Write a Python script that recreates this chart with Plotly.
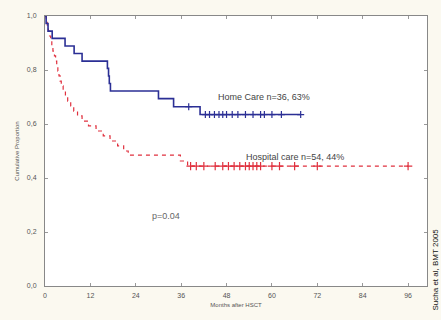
import plotly.graph_objects as go

# Home care (n=36): step times (months) and survival after each step
home_t = [0, 0.3, 0.8, 1.9, 5.3, 7.7, 9.8, 16.5, 16.8, 17.0, 17.3, 30.0, 34.0, 41.0, 67.6]
home_s = [1.0, 0.972, 0.944, 0.917, 0.889, 0.861, 0.833, 0.806, 0.778, 0.750, 0.722, 0.694, 0.664, 0.635, 0.635]
home_cens_t = [38.0, 42.4, 43.5, 44.8, 46.0, 47.0, 48.0, 49.5, 51.0, 53.0, 55.0, 57.0, 58.0, 60.0, 62.5, 67.6]
home_cens_s = [0.664] + [0.635] * 15

# Hospital care (n=54)
hosp_t = [0, 0.3, 0.6, 0.9, 1.2, 1.5, 1.8, 2.1, 2.5, 2.8, 3.1, 3.4, 3.7, 4.0, 4.3, 4.8, 5.4, 6.0,
          6.8, 7.6, 8.6, 9.8, 11.5, 13.5, 15.4, 17.2, 19.2, 20.8, 22.0, 35.8, 37.7, 96.0]
hosp_s = [1.0, 0.981, 0.963, 0.944, 0.926, 0.907, 0.889, 0.870, 0.852, 0.833, 0.815, 0.796, 0.778,
          0.759, 0.741, 0.722, 0.704, 0.685, 0.667, 0.648, 0.630, 0.611, 0.593, 0.574, 0.556, 0.537,
          0.519, 0.500, 0.485, 0.463, 0.444, 0.444]
hosp_cens_t = [38.5, 40.0, 42.0, 45.0, 47.0, 48.5, 50.0, 51.5, 53.0, 54.0, 55.0, 56.0, 57.0,
               60.0, 62.0, 66.0, 72.0, 96.0]
hosp_cens_s = [0.444] * len(hosp_cens_t)

x_ticks = [0, 12, 24, 36, 48, 60, 72, 84, 96]
y_ticks = [0.0, 0.2, 0.4, 0.6, 0.8, 1.0]
y_tick_labels = ["0,0", "0,2", "0,4", "0,6", "0,8", "1,0"]

blue = "#2b2f95"
red = "#e0303e"

fig = go.Figure()
fig.add_trace(go.Scatter(x=hosp_t, y=hosp_s, mode="lines",
                         line=dict(color=red, width=1.2, dash="4px,4px", shape="hv"), showlegend=False))
fig.add_trace(go.Scatter(x=hosp_cens_t, y=hosp_cens_s, mode="markers",
                         marker=dict(symbol="cross-thin", size=6, line=dict(color=red, width=1.2)), showlegend=False))
fig.add_trace(go.Scatter(x=home_t, y=home_s, mode="lines", line=dict(color=blue, width=1.6, shape="hv"),
                         showlegend=False))
fig.add_trace(go.Scatter(x=home_cens_t, y=home_cens_s, mode="markers",
                         marker=dict(symbol="cross-thin", size=5, line=dict(color=blue, width=1.2)), showlegend=False))

font_small = dict(family="Liberation Sans, Arial", size=7, color="#555555")
fig.add_annotation(x=58, y=0.70, text="Home Care n=36, 63%", showarrow=False,
                   font=dict(family="Liberation Sans, Arial", size=9, color="#444444"))
fig.add_annotation(x=66, y=0.478, text="Hospital care n=54, 44%", showarrow=False,
                   font=dict(family="Liberation Sans, Arial", size=9, color="#444444"))
fig.add_annotation(x=32, y=0.26, text="p=0.04", showarrow=False,
                   font=dict(family="Liberation Sans, Arial", size=9, color="#666666"))
fig.add_annotation(xref="paper", yref="paper", x=1.0, y=-0.1, text="Sucha et al, BMT 2005",
                   textangle=-90, showarrow=False, xanchor="left", yanchor="bottom", xshift=1,
                   font=dict(family="Liberation Sans, Arial", size=8, color="#111111"))

fig.update_xaxes(range=[0, 101], tickvals=x_ticks, ticktext=[str(v) for v in x_ticks],
                 showgrid=False, zeroline=False, showline=True, linecolor="#888888", linewidth=1,
                 mirror="ticks", ticks="inside", ticklen=3, tickcolor="#999999", tickfont=font_small,
                 ticklabelstandoff=3,
                 title=dict(text="Months after HSCT", font=dict(family="Liberation Sans, Arial", size=6, color="#555555"),
                            standoff=4))
fig.update_yaxes(range=[0, 1.0], tickvals=y_ticks, ticktext=y_tick_labels,
                 showgrid=False, zeroline=False, showline=True, linecolor="#888888", linewidth=1,
                 mirror="ticks", ticks="inside", ticklen=3, tickcolor="#999999", tickfont=font_small,
                 ticklabelstandoff=6,
                 title=dict(text="Cumulative Proportion", font=dict(family="Liberation Sans, Arial", size=6, color="#555555"),
                            standoff=6))

fig.update_layout(width=441, height=320, margin=dict(l=45, r=14, t=15, b=31),
                  paper_bgcolor="#fbf9f0", plot_bgcolor="#ffffff")
fig.write_html("out.html", config={"displayModeBar": False},
               post_script="document.body.style.margin='0';document.body.style.padding='0';")
